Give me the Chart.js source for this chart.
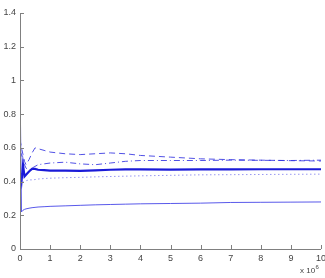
<!DOCTYPE html>
<html><head><meta charset="utf-8">
<script src="https://cdn.jsdelivr.net/npm/chart.js@4.4.1/dist/chart.umd.min.js"></script>
<style>html,body{margin:0;padding:0;background:#fff}#wrap{width:325px;height:278px;position:relative}</style>
</head><body><div id="wrap"><canvas id="c" width="325" height="278"></canvas></div>
<script>
const xValues = [0, 0.05, 0.1, 0.15, 0.2, 0.3, 0.4, 0.5, 0.6, 0.8, 1, 1.5, 2, 2.5, 3, 3.5, 4, 5, 6, 7, 8, 9, 10];
const thinSolid = [1.0, 0.22, 0.23, 0.235, 0.238, 0.242, 0.245, 0.247, 0.249, 0.251, 0.253, 0.256, 0.259, 0.262, 0.264, 0.266, 0.268, 0.27, 0.272, 0.276, 0.277, 0.278, 0.279];
const dashed = [0.65, 0.6, 0.56, 0.52, 0.5, 0.53, 0.57, 0.6, 0.595, 0.585, 0.575, 0.565, 0.56, 0.565, 0.57, 0.565, 0.555, 0.545, 0.535, 0.53, 0.527, 0.524, 0.522];
const dashDot = [0.58, 0.56, 0.53, 0.5, 0.48, 0.465, 0.48, 0.49, 0.5, 0.505, 0.51, 0.515, 0.505, 0.5, 0.51, 0.52, 0.525, 0.525, 0.525, 0.527, 0.526, 0.525, 0.527];
const thick = [0.45, 0.4, 0.5, 0.43, 0.44, 0.46, 0.475, 0.475, 0.47, 0.468, 0.465, 0.465, 0.463, 0.467, 0.47, 0.472, 0.472, 0.471, 0.472, 0.472, 0.473, 0.473, 0.473];
const dotted = [0.4, 0.39, 0.395, 0.4, 0.405, 0.41, 0.41, 0.412, 0.415, 0.418, 0.42, 0.423, 0.425, 0.428, 0.43, 0.432, 0.434, 0.437, 0.44, 0.441, 0.442, 0.443, 0.444];
const xTicks = [0,1,2,3,4,5,6,7,8,9,10];
const yTicks = [0,0.2,0.4,0.6,0.8,1,1.2,1.4];
const exponentLabel = "x 10";
const exponentSup = "6";

function pts(ys){ return xValues.map((x,i)=>({x:x,y:ys[i]})); }
function ds(ys, color, width, dash){
  return {data: pts(ys), borderColor: color, borderWidth: width, borderDash: dash, pointRadius: 0, fill:false, tension:0};
}
const axisColor = '#808080';
const inwardTicks = {
  id:'inwardTicks',
  afterDraw(chart){
    const ctx = chart.ctx, a = chart.chartArea;
    const xs = chart.scales.x, ys = chart.scales.y;
    ctx.save();
    ctx.strokeStyle = axisColor; ctx.lineWidth = 1;
    ctx.beginPath();
    ctx.moveTo(a.left+0.5, a.top); ctx.lineTo(a.left+0.5, a.bottom+0.5); ctx.lineTo(a.right, a.bottom+0.5);
    xTicks.forEach(v=>{ const p = Math.round(xs.getPixelForValue(v))+0.5; ctx.moveTo(p, a.bottom); ctx.lineTo(p, a.bottom-4); });
    yTicks.forEach(v=>{ const p = Math.round(ys.getPixelForValue(v))+0.5; ctx.moveTo(a.left, p); ctx.lineTo(a.left+4, p); });
    ctx.stroke();
    ctx.fillStyle = '#444';
    ctx.font = '8px "Liberation Sans", Arial, sans-serif';
    ctx.textAlign = 'left'; ctx.textBaseline = 'alphabetic';
    const bx = a.right - 21, by = a.bottom + 24;
    ctx.fillText(exponentLabel, bx, by);
    const w = ctx.measureText(exponentLabel).width;
    ctx.font = '6px "Liberation Sans", Arial, sans-serif';
    ctx.fillText(exponentSup, bx + w + 0.5, by - 4);
    ctx.restore();
  }
};
new Chart(document.getElementById('c'), {
  type:'line',
  data:{ datasets:[
    ds(thinSolid, 'rgba(60,60,230,0.85)', 1, []),
    ds(dotted, 'rgba(60,60,230,0.8)', 1, [1,3]),
    ds(dashDot, 'rgba(50,50,225,0.85)', 1, [6,3,1,3]),
    ds(dashed, 'rgba(50,50,225,0.85)', 1, [6,4]),
    ds(thick, '#1a1ad8', 2.2, [])
  ]},
  options:{
    responsive:false, animation:false,
    layout:{padding:{top:13, right:4, left:0, bottom:0}},
    plugins:{legend:{display:false}, tooltip:{enabled:false}},
    scales:{
      x:{type:'linear', min:0, max:10,
        afterBuildTicks(s){ s.ticks = xTicks.map(v=>({value:v})); },
        afterFit(s){ s.height = 29; s.paddingRight = 0; s.paddingLeft = 0; },
        grid:{display:false, drawTicks:false}, border:{display:false},
        ticks:{padding:4, color:'#444', font:{size:9, family:'"Liberation Sans", Arial, sans-serif'}, maxRotation:0, callback:v=>String(v)}
      },
      y:{type:'linear', min:0, max:1.4,
        afterBuildTicks(s){ s.ticks = yTicks.map(v=>({value:v})); },
        afterFit(s){ s.width = 20; s.paddingTop = 0; s.paddingBottom = 0; },
        grid:{display:false, drawTicks:false}, border:{display:false},
        ticks:{padding:4, color:'#444', font:{size:9, family:'"Liberation Sans", Arial, sans-serif'}, callback:v=>String(Math.round(v*10)/10)}
      }
    }
  },
  plugins:[inwardTicks]
});
</script></body></html>
